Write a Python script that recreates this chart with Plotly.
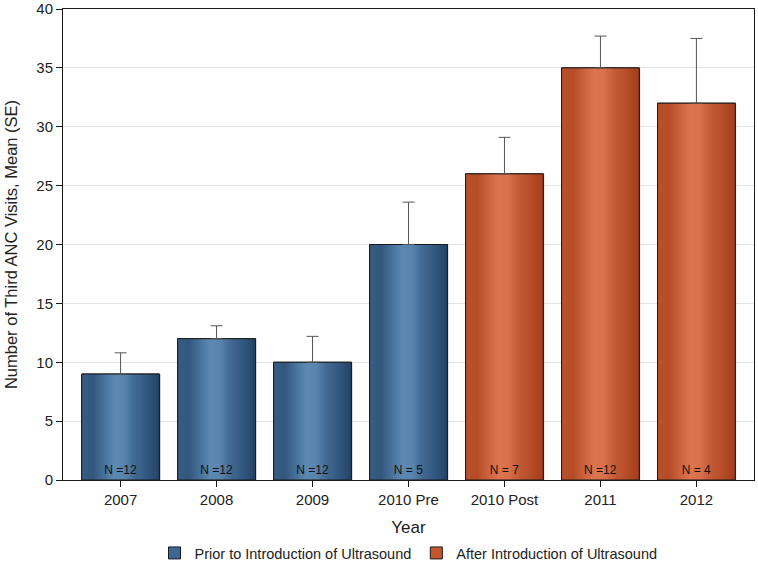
import plotly.graph_objects as go

# data
years = ["2007", "2008", "2009", "2010 Pre", "2010 Post", "2011", "2012"]
mean_visits = [9, 12, 10, 20, 26, 35, 32]
se_visits = [1.8, 1.1, 2.2, 3.6, 3.1, 2.7, 5.5]
n_labels = ["N =12", "N =12", "N =12", "N = 5", "N = 7", "N =12", "N = 4"]
period = ["prior", "prior", "prior", "prior", "after", "after", "after"]

groups = {
    "prior": dict(name="Prior to Introduction of Ultrasound",
                  dark=(26, 58, 94), light=(92, 136, 178), mid="#3d6894"),
    "after": dict(name="After Introduction of Ultrasound",
                  dark=(158, 52, 16), light=(220, 116, 80), mid="#c4552c"),
}

FONT = "Liberation Sans, Arial, sans-serif"
W = 0.81      # bar width in category units
NSTRIP = 40   # vertical strips used to fake the gradient fill

# brightness profile across a bar (0 = dark, 1 = light), left -> right
profile = [(0.0, 0.45), (0.15, 0.38), (0.3, 0.75), (0.42, 1.0),
           (0.55, 0.95), (0.68, 0.6), (0.8, 0.45), (1.0, 0.12)]


def shade(t):
    for (p0, v0), (p1, v1) in zip(profile[:-1], profile[1:]):
        if p0 <= t <= p1:
            return v0 + (v1 - v0) * (t - p0) / (p1 - p0)
    return profile[-1][1]


def mix(dark, light, f):
    return "rgb(%d,%d,%d)" % tuple(round(d + (l - d) * f) for d, l in zip(dark, light))


fig = go.Figure()

for key, g in groups.items():
    xs = [y for y, p in zip(years, period) if p == key]
    ys = [m for m, p in zip(mean_visits, period) if p == key]
    # base bar (carries legend entry)
    fig.add_trace(go.Bar(x=xs, y=ys, width=W, name=g["name"],
                         marker=dict(color=g["mid"], line=dict(color="#1a1a1a", width=1)),
                         hoverinfo="skip"))
    # gradient strips
    sw = W / NSTRIP
    for k in range(NSTRIP):
        t = (k + 0.5) / NSTRIP
        fig.add_trace(go.Bar(x=xs, y=ys, width=sw * 1.4, offset=-W / 2 + k * sw,
                             marker=dict(color=mix(g["dark"], g["light"], shade(t)),
                                         line=dict(width=0)),
                             showlegend=False, hoverinfo="skip"))

# outline, error bars and N labels on top
fig.add_trace(go.Bar(
    x=years, y=mean_visits, width=W, showlegend=False,
    marker=dict(color="rgba(0,0,0,0)", line=dict(color="#1a1a1a", width=1)),
    error_y=dict(type="data", array=se_visits, arrayminus=[0] * len(years),
                 symmetric=False, color="#555555", thickness=1, width=6),
    text=n_labels, textposition="inside", insidetextanchor="start", textangle=0,
    textfont=dict(family=FONT, size=12, color="#111111"),
    constraintext="none",
))

fig.update_layout(
    width=758, height=561,
    barmode="overlay",
    plot_bgcolor="white", paper_bgcolor="white",
    margin=dict(l=63, r=4, t=9, b=81, autoexpand=False),
    font=dict(family=FONT, size=15, color="#222222"),
    legend=dict(orientation="h", x=0.5, xanchor="center", y=-0.155, yanchor="middle",
                font=dict(size=14.5), traceorder="normal"),
    xaxis=dict(title=dict(text="Year", font=dict(size=17), standoff=14),
               range=[-0.6, 6.6], showline=True, linecolor="#1a1a1a", linewidth=1,
               mirror=True, ticks="outside", ticklen=6, tickcolor="#1a1a1a",
               tickfont=dict(size=15), automargin=False),
    yaxis=dict(title=dict(text="Number of Third ANC Visits, Mean (SE)", font=dict(size=16.5),
                          standoff=14),
               range=[0, 40], dtick=5, showline=True, linecolor="#1a1a1a", linewidth=1,
               mirror=True, ticks="outside", ticklen=6, tickcolor="#1a1a1a",
               showgrid=True, gridcolor="#e4e4e4", gridwidth=1, zeroline=False,
               tickfont=dict(size=15), automargin=True),
)

# drop the browser's default 8px page margin so the figure fills the window
fig.write_html("out.html", config={"displayModeBar": False},
               post_script="document.body.style.margin='0';")
